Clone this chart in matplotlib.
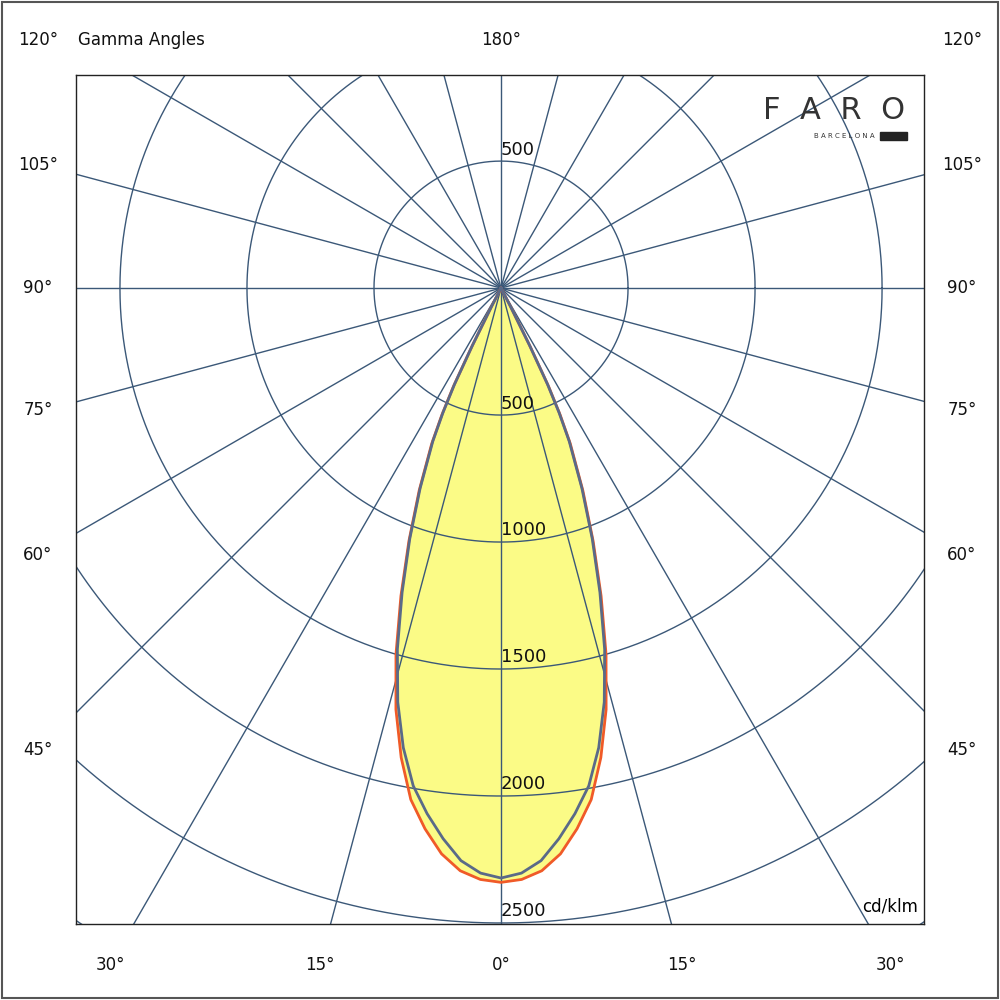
import numpy as np
import matplotlib
matplotlib.use("Agg")
import matplotlib.pyplot as plt
from matplotlib.patches import Rectangle

gamma_blue = [0, 2, 4, 6, 8, 10, 12, 14, 16, 18, 20, 22, 24, 25, 25.8, 26.5, 27.2, 27.6]
cd_blue = [2323, 2305, 2260, 2180, 2090, 1990, 1850, 1680, 1480, 1260, 1050, 850, 660, 540, 420, 250, 80, 0]
gamma_red = [0, 2, 4, 6, 8, 10, 12, 14, 16, 18, 20, 22, 24, 25, 25.8, 26.5, 27.2, 27.6]
cd_red = [2340, 2330, 2300, 2240, 2150, 2045, 1890, 1710, 1500, 1275, 1060, 860, 670, 550, 430, 260, 85, 0]
rings = [500, 1000, 1500, 2000, 2500, 3000]
ring_labels = ["500", "1000", "1500", "2000", "2500"]

grid = "#3b5878"
fig = plt.figure(figsize=(10, 10), dpi=100)
fig.patches.append(Rectangle((0.002, 0.002), 0.996, 0.996, transform=fig.transFigure,
                             fill=False, ec="#555555", lw=1.5))
ax = fig.add_axes([0.076, 0.076, 0.848, 0.849])
ax.set_xlim(-1673, 1665)
ax.set_ylim(-2504, 839)
ax.set_aspect("auto")
ax.set_xticks([]); ax.set_yticks([])
for s in ax.spines.values():
    s.set_color("#222222"); s.set_linewidth(1)

t = np.linspace(0, 2*np.pi, 721)
for r in rings:
    ax.plot(r*np.cos(t), r*np.sin(t), color=grid, lw=1)
for a in range(0, 360, 15):
    ar = np.radians(a)
    ax.plot([0, 5000*np.sin(ar)], [0, -5000*np.cos(ar)], color=grid, lw=1)

def curve(g, c):
    g = np.array(g); c = np.array(c)
    gg = np.concatenate([-g[::-1], g[1:]])
    cc = np.concatenate([c[::-1], c[1:]])
    ang = np.radians(gg)
    return cc*np.sin(ang), -cc*np.cos(ang)

xr, yr = curve(gamma_red, cd_red)
xb, yb = curve(gamma_blue, cd_blue)
ax.fill(xr, yr, color="#fbfb86", zorder=1)
ax.plot(xr, yr, color="#f05a28", lw=2, zorder=3)
ax.plot(xb, yb, color="#5a6a88", lw=2, zorder=4)

for r, lab in zip(rings, ring_labels):
    ax.text(0, -r + 10, lab, ha="left", va="bottom", fontsize=13, color="#111111", zorder=5)
ax.text(0, 500 + 10, "500", ha="left", va="bottom", fontsize=13, color="#111111", zorder=5)
ax.text(1640, -2470, "cd/klm", ha="right", va="bottom", fontsize=12, zorder=5)

ax.text(1590, 700, "F  A  R  O", ha="right", va="center", fontsize=22, color="#333333")
ax.text(1470, 600, "B A R C E L O N A", ha="right", va="center", fontsize=5, color="#333333")
ax.add_patch(Rectangle((1490, 585), 110, 30, color="#222222"))

def ft(x, y, s, ha="center"):
    fig.text(x/1000, 1 - y/1000, s, ha=ha, va="center", fontsize=12, color="#111111")

ft(38, 40, "120°"); ft(962, 40, "120°"); ft(78, 40, "Gamma Angles", ha="left")
ft(501, 40, "180°")
for y, s in [(165, "105°"), (288, "90°"), (410, "75°"), (555, "60°"), (750, "45°")]:
    ft(38, y, s); ft(962, y, s)
for x, s in [(110, "30°"), (320, "15°"), (501, "0°"), (682, "15°"), (890, "30°")]:
    ft(x, 965, s)

fig.savefig("out.png", dpi=100)
